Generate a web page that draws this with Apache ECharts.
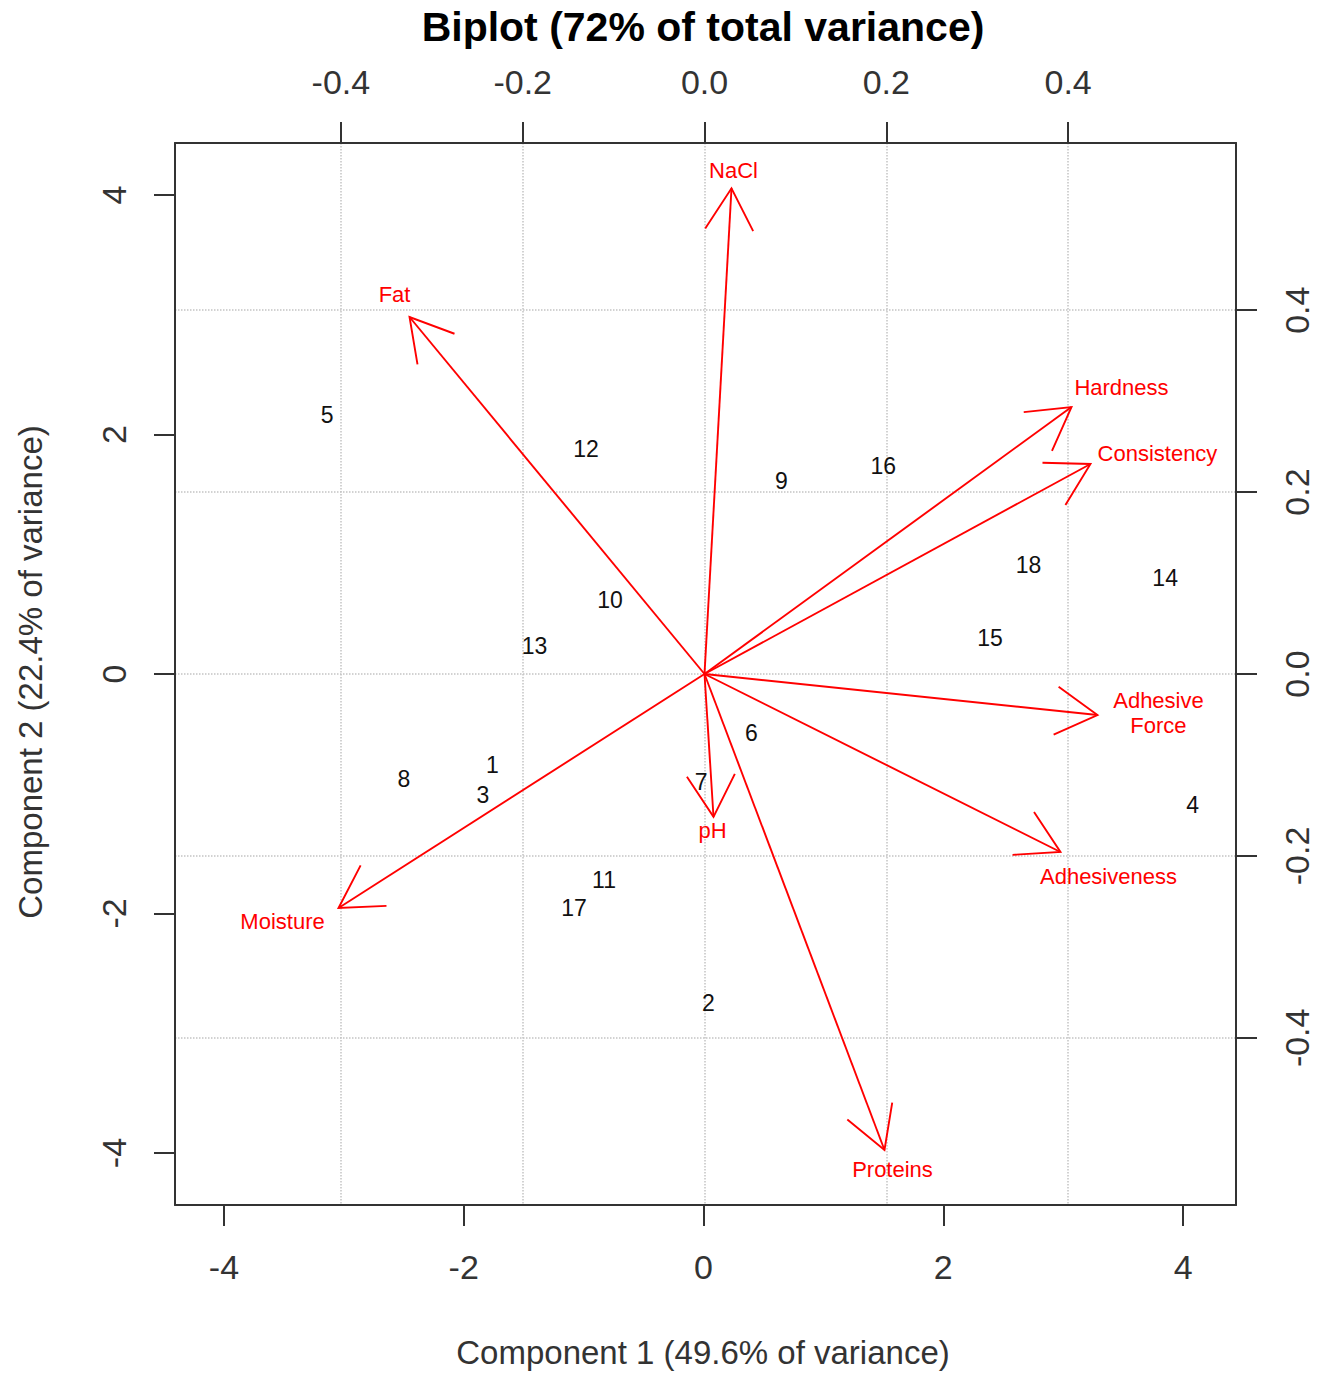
<!DOCTYPE html>
<html>
<head>
<meta charset="utf-8">
<title>Biplot</title>
<script src="https://cdn.jsdelivr.net/npm/echarts@6/dist/echarts.min.js"></script>
<style>
  html, body { margin: 0; padding: 0; background: #fff; }
  #chart { width: 1319px; height: 1376px; }
</style>
</head>
<body>
<div id="chart"></div>
<script>
// ---- Data ----
const sampleNames = ['1','2','3','4','5','6','7','8','9','10','11','12','13','14','15','16','17','18'];
const sampleX = [-1.76, 0.04, -1.84, 4.08, -3.14, 0.40, -0.02, -2.50, 0.65, -0.78, -0.83, -0.98, -1.41, 3.85, 2.39, 1.50, -1.08, 2.71];
const sampleY = [-0.76, -2.75, -1.01, -1.09, 2.16, -0.49, -0.90, -0.88, 1.61, 0.62, -1.72, 1.88, 0.23, 0.80, 0.30, 1.74, -1.95, 0.91];

const variableNames = ['Moisture', 'Fat', 'Proteins', 'NaCl', 'pH', 'Hardness', 'Adhesiveness', 'Adhesive\nForce', 'Consistency'];
const loadingX = [-0.4026, -0.3245, 0.1980, 0.0297, 0.0099, 0.4037, 0.3916, 0.4323, 0.4246];
const loadingY = [-0.2573, 0.3925, -0.5233, 0.5340, -0.1570, 0.2935, -0.1957, -0.0451, 0.2309];

const scoreTicks = [-4, -2, 0, 2, 4];
const loadingTicks = [-0.4, -0.2, 0.0, 0.2, 0.4];

// ---- Style config (label offsets in px relative to arrow tip) ----
const labelOffsets = {
  'Moisture': [-56, 13],
  'Fat': [-15, -22],
  'Proteins': [8, 20],
  'NaCl': [2, -18],
  'pH': [-1, 14],
  'Hardness': [50, -20],
  'Adhesiveness': [48, 24],
  'Adhesive\nForce': [61, -2],
  'Consistency': [67, -10]
};

const FONT = '"Liberation Sans", Arial, Helvetica, sans-serif';
const AXIS_COLOR = '#333';
const RED = '#ff0000';

const chart = echarts.init(document.getElementById('chart'), null, { renderer: 'svg' });

const axisCommon = {
  type: 'value',
  axisLine: { show: true, onZero: false, lineStyle: { color: AXIS_COLOR, width: 2 } },
  axisTick: { show: true, inside: false, length: 21, lineStyle: { color: AXIS_COLOR, width: 2 } },
  splitLine: { show: false }
};

const option = {
  backgroundColor: '#fff',
  animation: false,
  grid: { left: 175, right: 83, top: 143, bottom: 171, containLabel: false },
  xAxis: [
    Object.assign({}, axisCommon, {
      position: 'bottom', min: -4.408, max: 4.441,
      axisTick: Object.assign({}, axisCommon.axisTick, { customValues: scoreTicks }),
      axisLabel: { customValues: scoreTicks, fontSize: 34, color: AXIS_COLOR, fontFamily: FONT, margin: 45,
                   formatter: v => String(v) }
    }),
    Object.assign({}, axisCommon, {
      position: 'top', min: -0.5825, max: 0.5847,
      axisTick: Object.assign({}, axisCommon.axisTick, { customValues: loadingTicks }),
      axisLabel: { customValues: loadingTicks, fontSize: 34, color: AXIS_COLOR, fontFamily: FONT, margin: 44,
                   formatter: v => v.toFixed(1) },
      splitLine: { show: true, lineStyle: { color: '#c4c4c4', width: 1.5, type: 'dotted' } }
    })
  ],
  yAxis: [
    Object.assign({}, axisCommon, {
      position: 'left', min: -4.434, max: 4.434,
      axisTick: Object.assign({}, axisCommon.axisTick, { customValues: scoreTicks }),
      axisLabel: { customValues: scoreTicks, fontSize: 34, color: AXIS_COLOR, fontFamily: FONT, margin: 44, rotate: 90,
                   formatter: v => String(v) }
    }),
    Object.assign({}, axisCommon, {
      position: 'right', min: -0.5838, max: 0.5838,
      axisTick: Object.assign({}, axisCommon.axisTick, { customValues: loadingTicks }),
      axisLabel: { customValues: loadingTicks, fontSize: 34, color: AXIS_COLOR, fontFamily: FONT, margin: 44, rotate: 90,
                   formatter: v => v.toFixed(1) },
      splitLine: { show: true, lineStyle: { color: '#c4c4c4', width: 1.5, type: 'dotted' } }
    })
  ],
  graphic: [
    { type: 'text', x: 703, y: 27, style: { text: 'Biplot (72% of total variance)', font: 'bold 41px ' + FONT,
      fill: '#000', align: 'center', verticalAlign: 'middle' } },
    { type: 'text', x: 703, y: 1352, style: { text: 'Component 1 (49.6% of variance)', font: '33px ' + FONT,
      fill: AXIS_COLOR, align: 'center', verticalAlign: 'middle' } },
    { type: 'text', x: 30, y: 672, rotation: Math.PI / 2, style: { text: 'Component 2 (22.4% of variance)', font: '33px ' + FONT,
      fill: AXIS_COLOR, align: 'center', verticalAlign: 'middle' } }
  ],
  series: [
    {
      type: 'custom',
      name: 'samples',
      coordinateSystem: 'cartesian2d',
      xAxisIndex: 0, yAxisIndex: 0,
      data: sampleNames.map((n, i) => ({ name: n, value: [sampleX[i], sampleY[i]] })),
      renderItem: function (params, api) {
        const p = api.coord([api.value(0), api.value(1)]);
        return {
          type: 'text', x: p[0], y: p[1],
          style: { text: sampleNames[params.dataIndex], font: '23px ' + FONT, fill: '#111',
                   align: 'center', verticalAlign: 'middle' }
        };
      }
    },
    {
      type: 'custom',
      name: 'variables',
      coordinateSystem: 'cartesian2d',
      xAxisIndex: 1, yAxisIndex: 1,
      data: variableNames.map((n, i) => ({ name: n, value: [loadingX[i], loadingY[i]] })),
      renderItem: function (params, api) {
        const name = variableNames[params.dataIndex];
        const o = api.coord([0, 0]);
        const t = api.coord([api.value(0), api.value(1)]);
        const ang = Math.atan2(t[1] - o[1], t[0] - o[0]);
        const L = 48, a = Math.PI / 6;
        const h1 = [t[0] - L * Math.cos(ang - a), t[1] - L * Math.sin(ang - a)];
        const h2 = [t[0] - L * Math.cos(ang + a), t[1] - L * Math.sin(ang + a)];
        const off = labelOffsets[name] || [0, 0];
        return {
          type: 'group',
          children: [
            { type: 'line', shape: { x1: o[0], y1: o[1], x2: t[0], y2: t[1] },
              style: { stroke: RED, lineWidth: 1.9 } },
            { type: 'polyline', shape: { points: [h1, t, h2] },
              style: { stroke: RED, lineWidth: 1.9, fill: null } },
            { type: 'text', x: t[0] + off[0], y: t[1] + off[1],
              style: { text: name, font: '22px ' + FONT, fill: RED, align: 'center',
                       verticalAlign: 'middle', lineHeight: 25 } }
          ]
        };
      }
    }
  ]
};

chart.setOption(option);
</script>
</body>
</html>
